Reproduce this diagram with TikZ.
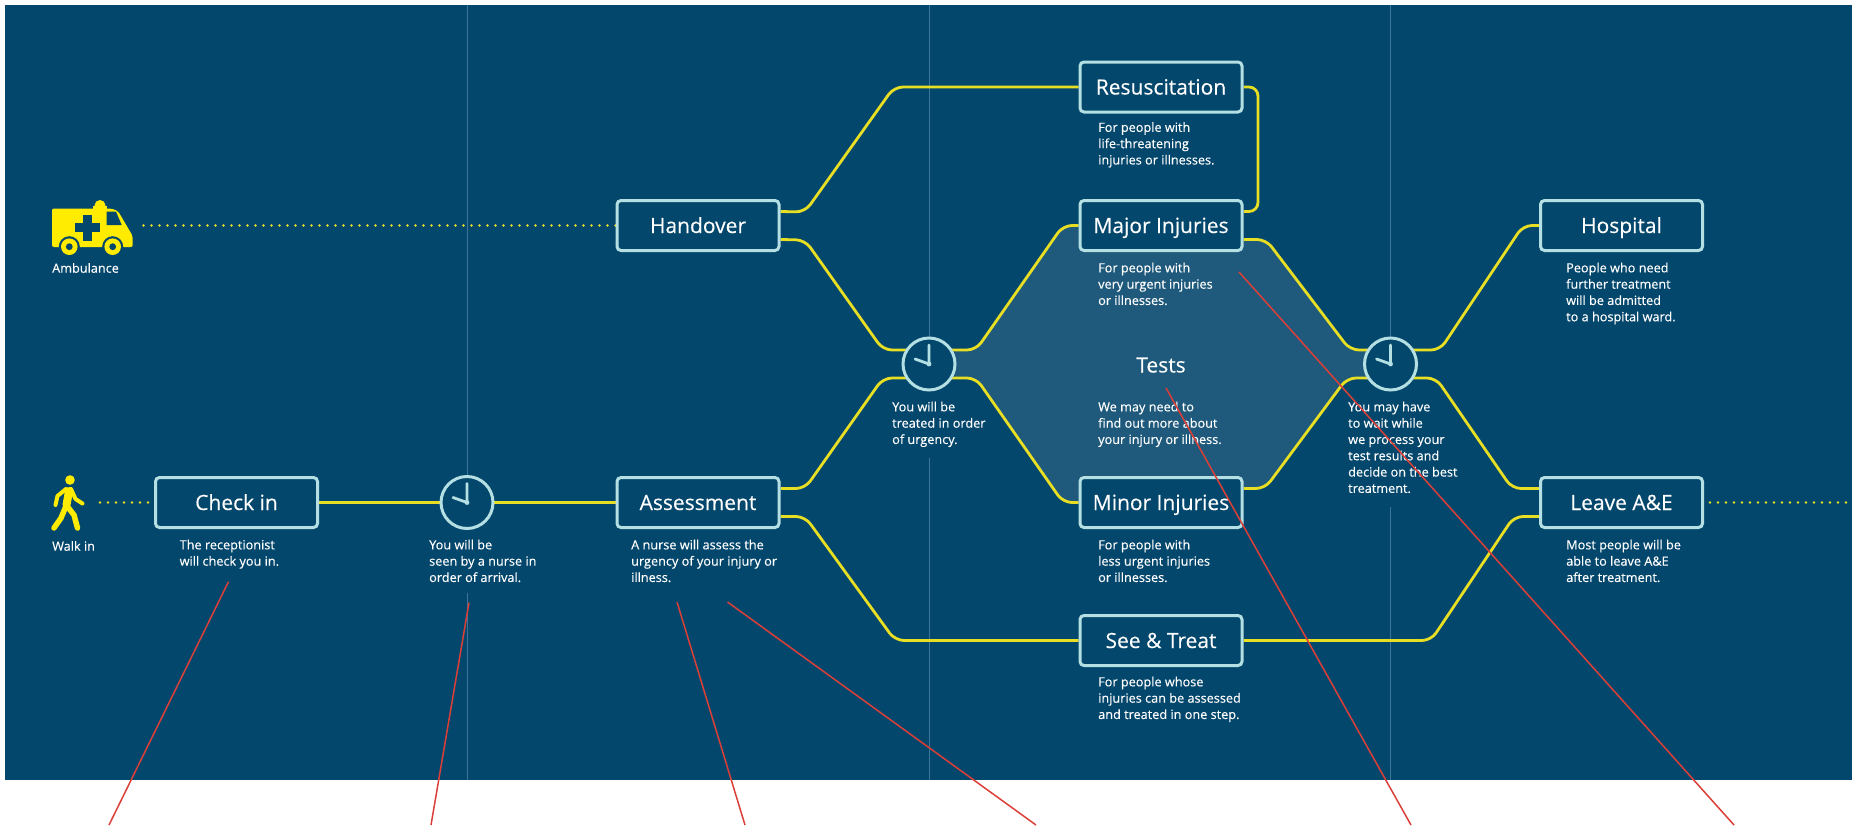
\documentclass[tikz,border=0pt]{standalone}
\usepackage{fontspec}
\setmainfont{Open Sans}
\newfontfamily\heavyface{Open Sans}[FakeBold=0.25]
\usetikzlibrary{calc}
\definecolor{navy}{HTML}{04476C}
\definecolor{hexfill}{HTML}{1F5A7C}
\definecolor{edgeblue}{HTML}{B4E0E4}
\definecolor{route}{HTML}{E8DF25}
\definecolor{iconyellow}{HTML}{FFEC00}
\definecolor{guide}{HTML}{3C7597}
\definecolor{note}{HTML}{DB3F38}
\pgfdeclarelayer{under}
\pgfsetlayers{under,main}
\tikzset{
  x=1pt,y=-1pt,
  stage/.style={draw=edgeblue,line width=3pt,fill=navy,rounded corners=4pt,minimum width=162pt,minimum height=50pt,inner sep=0pt,text=white,font=\heavyface\fontsize{21}{24}\selectfont,text height=15pt,text depth=0pt},
  clockface/.style={circle,draw=edgeblue,line width=3pt,fill=navy,minimum size=52pt,inner sep=0pt},
  desc/.style={anchor=north west,align=left,inner sep=0pt,text=white,font=\heavyface\fontsize{12.7}{16.3}\selectfont,execute at begin node={\rule{0pt}{10pt}}},
  conn/.style={draw=route,line width=2.8pt,rounded corners=9pt},
  dots/.style={draw=route,line width=2.8pt,line cap=round,dash pattern=on 0pt off 8pt},
  guideline/.style={draw=guide,line width=0.8pt},
  notearrow/.style={draw=note,line width=1.5pt},
  hands/.style={draw=edgeblue,line width=2.8pt,line cap=round}
}
\newcommand{\clockhands}[1]{%
  \draw[hands] ($(#1)+(0,-19)$) -- (#1) -- ($(#1)+(-14,-5)$);
  \fill[edgeblue] (#1) circle (2.4pt);
}
\begin{document}
\begin{tikzpicture}
\useasboundingbox (0,0) rectangle (1852,825);
% stages
\node[stage] (checkin) at (236.5,502.5) {Check in};
\node[stage] (handover) at (698,225.5) {Handover};
\node[stage] (assess) at (698,502.5) {Assessment};
\node[stage] (resus) at (1161,87) {Resuscitation};
\node[stage] (major) at (1161,225.5) {Major Injuries};
\node[stage] (minor) at (1161,502.5) {Minor Injuries};
\node[stage] (seetreat) at (1161,640.5) {See \& Treat};
\node[stage] (hospital) at (1621.5,225.5) {Hospital};
\node[stage] (leave) at (1621.5,502.5) {Leave A\&E};
\node[clockface] (c1) at (467,502.5) {};
\node[clockface] (c2) at (929,364) {};
\node[clockface] (c3) at (1390.5,364) {};
\clockhands{c1.center}
\clockhands{c2.center}
\clockhands{c3.center}
% free-end coordinates
\coordinate (ambend) at (143.5,225.5);
\coordinate (walkend) at (100,502.5);
\coordinate (exitend) at (1852,502.5);
\coordinate (g1top) at (467,5);
\coordinate (g1mid) at (467,593);
\coordinate (g1bot) at (467,780);
\coordinate (g2top) at (929,5);
\coordinate (g2mid) at (929,458);
\coordinate (g2bot) at (929,780);
\coordinate (g3top) at (1390.5,5);
\coordinate (g3mid) at (1390.5,507);
\coordinate (g3bot) at (1390.5,780);
\begin{pgfonlayer}{under}
\fill[navy] (5,5) rectangle (1852,780);
\draw[guideline] (g1top) -- (c1.north);
\draw[guideline] (g1mid) -- (g1bot);
\draw[guideline] (g2top) -- (c2.north);
\draw[guideline] (g2mid) -- (g2bot);
\draw[guideline] (g3top) -- (c3.north);
\draw[guideline] (g3mid) -- (g3bot);
\fill[hexfill,rounded corners=9pt] (955,350) -- (976,350) -- (1063,226) -- (1100,226) [sharp corners] -- (1243,240) [rounded corners=9pt] -- (1267,240) -- (1350,350) -- (1370,350) [sharp corners] -- (1370,378) [rounded corners=9pt] -- (1347,378) -- (1265,488) -- (1243,488) [sharp corners] -- (1100,502) [rounded corners=9pt] -- (1063,502) -- (976,378) [sharp corners] -- (955,378) -- cycle;
\draw[conn] (checkin.east) -- (c1.center);
\draw[conn] (c1.center) -- (assess.west);
\draw[conn] ([yshift=14pt]handover.east) -- (805,212) -- (894,87) -- (resus.west);
\draw[conn] ([yshift=-14pt]handover.east) -- (805,240) -- (883,350) -- ([yshift=14pt]c2.center);
\draw[conn] ([yshift=14pt]assess.east) -- (805,488.5) -- (883,378) -- ([yshift=-14pt]c2.center);
\draw[conn] ([yshift=-14pt]assess.east) -- (805,516.5) -- (895,640.5) -- (seetreat.west);
\draw[conn] ([yshift=14pt]c2.center) -- (976,350) -- (1063,225.5) -- (major.west);
\draw[conn] ([yshift=-14pt]c2.center) -- (976,378) -- (1063,502.5) -- (minor.west);
\draw[conn] (resus.east) -- (1258,87) -- (1258,211.5) -- ([yshift=14pt]major.east);
\draw[conn] ([yshift=-14pt]major.east) -- (1266,239.5) -- (1350,350) -- ([yshift=14pt]c3.center);
\draw[conn] ([yshift=14pt]minor.east) -- (1265,488.5) -- (1347,378) -- ([yshift=-14pt]c3.center);
\draw[conn] ([yshift=14pt]c3.center) -- (1440,350) -- (1523,225.5) -- (hospital.west);
\draw[conn] ([yshift=-14pt]c3.center) -- (1436,378) -- (1512,488.5) -- ([yshift=14pt]leave.west);
\draw[conn] (seetreat.east) -- (1431,640.5) -- (1514,516.5) -- ([yshift=-14pt]leave.west);
\draw[dots] (ambend) -- (handover.west);
\draw[dots] (walkend) -- (checkin.west);
\draw[dots] ([xshift=6pt]leave.east) -- (exitend);
\end{pgfonlayer}
% ambulance
\fill[iconyellow,rounded corners=2pt] (52,208.5) -- (111,208.5) -- (118,211) -- (128,228) -- (132.7,236) -- (132.7,247) -- (52,247) -- cycle;
\fill[iconyellow] (100,205.5) circle (5.5pt);
\fill[iconyellow] (93,205.5) rectangle (107,209);
\fill[navy] (106.7,211.7) -- (116,211.7) -- (121.7,225) -- (106.7,225) -- cycle;
\fill[navy] (83,215) rectangle (91.6,240.5);
\fill[navy] (74.5,223.4) rectangle (100,232);
\foreach \cx in {69.3,112.7}{
  \fill[navy] (\cx,246.7) circle (10.5pt);
  \fill[iconyellow] (\cx,246.7) circle (8.3pt);
  \fill[navy] (\cx,246.7) circle (3.4pt);
}
% walker
\fill[iconyellow] (70,480) circle (4.8pt);
\draw[iconyellow,line width=8pt,line cap=round] (69,491) -- (66.5,505);
\draw[iconyellow,line width=5.5pt,line cap=round,line join=round] (66,506) -- (61,518) -- (54,528);
\draw[iconyellow,line width=5.5pt,line cap=round,line join=round] (67,506) -- (74,515) -- (77.5,528);
\draw[iconyellow,line width=4pt,line cap=round,line join=round] (66,489) -- (57.5,496) -- (55.5,505);
\draw[iconyellow,line width=4pt,line cap=round,line join=round] (71,489) -- (75.5,499) -- (82.5,503.5);
% labels
\node[desc] (lamb) at (52,262.5) {Ambulance};
\node[desc] (lwalk) at (52,540.5) {Walk in};
\node[desc] (dcheck) at (179.5,539.5) {The receptionist\\will check you in.};
\node[desc] (dc1) at (429,539.5) {You will be\\seen by a nurse in\\order of arrival.};
\node[desc] (dassess) at (631,539.5) {A nurse will assess the\\urgency of your injury or\\illness.};
\node[desc] (dc2) at (892,401.5) {You will be\\treated in order\\of urgency.};
\node[desc] (dresus) at (1098,122) {For people with\\life-threatening\\injuries or illnesses.};
\node[desc] (dmajor) at (1098,262.5) {For people with\\very urgent injuries\\or illnesses.};
\node[desc] (dtests) at (1098,401.5) {We may need to\\find out more about\\your injury or illness.};
\node[desc] (dminor) at (1098,539.5) {For people with\\less urgent injuries\\or illnesses.};
\node[desc] (dsee) at (1098,676.5) {For people whose\\injuries can be assessed\\and treated in one step.};
\node[desc] (dc3) at (1348,401.5) {You may have\\to wait while\\we process your\\test results and\\decide on the best\\treatment.};
\node[desc] (dhosp) at (1566,262.5) {People who need\\further treatment\\will be admitted\\to a hospital ward.};
\node[desc] (dleave) at (1566,539.5) {Most people will be\\able to leave A\&E\\after treatment.};
\node[text=white,font=\heavyface\fontsize{21}{24}\selectfont,inner sep=0pt,text height=15pt,text depth=0pt] (tests) at (1161,365) {Tests};
% annotation lines
\coordinate (r1a) at (228.5,581.7); \coordinate (r1b) at (109,825);
\coordinate (r2a) at (469,602.7); \coordinate (r2b) at (431,825);
\coordinate (r3a) at (677,602); \coordinate (r3b) at (745,825);
\coordinate (r4a) at (727.5,602); \coordinate (r4b) at (1036,825);
\coordinate (r5a) at (1166,388); \coordinate (r5b) at (1411,825);
\coordinate (r6a) at (1239,272); \coordinate (r6b) at (1734,825);
\draw[notearrow] (r1a) -- (r1b);
\draw[notearrow] (r2a) -- (r2b);
\draw[notearrow] (r3a) -- (r3b);
\draw[notearrow] (r4a) -- (r4b);
\draw[notearrow] (r5a) -- (r5b);
\draw[notearrow] (r6a) -- (r6b);
\end{tikzpicture}
\end{document}
